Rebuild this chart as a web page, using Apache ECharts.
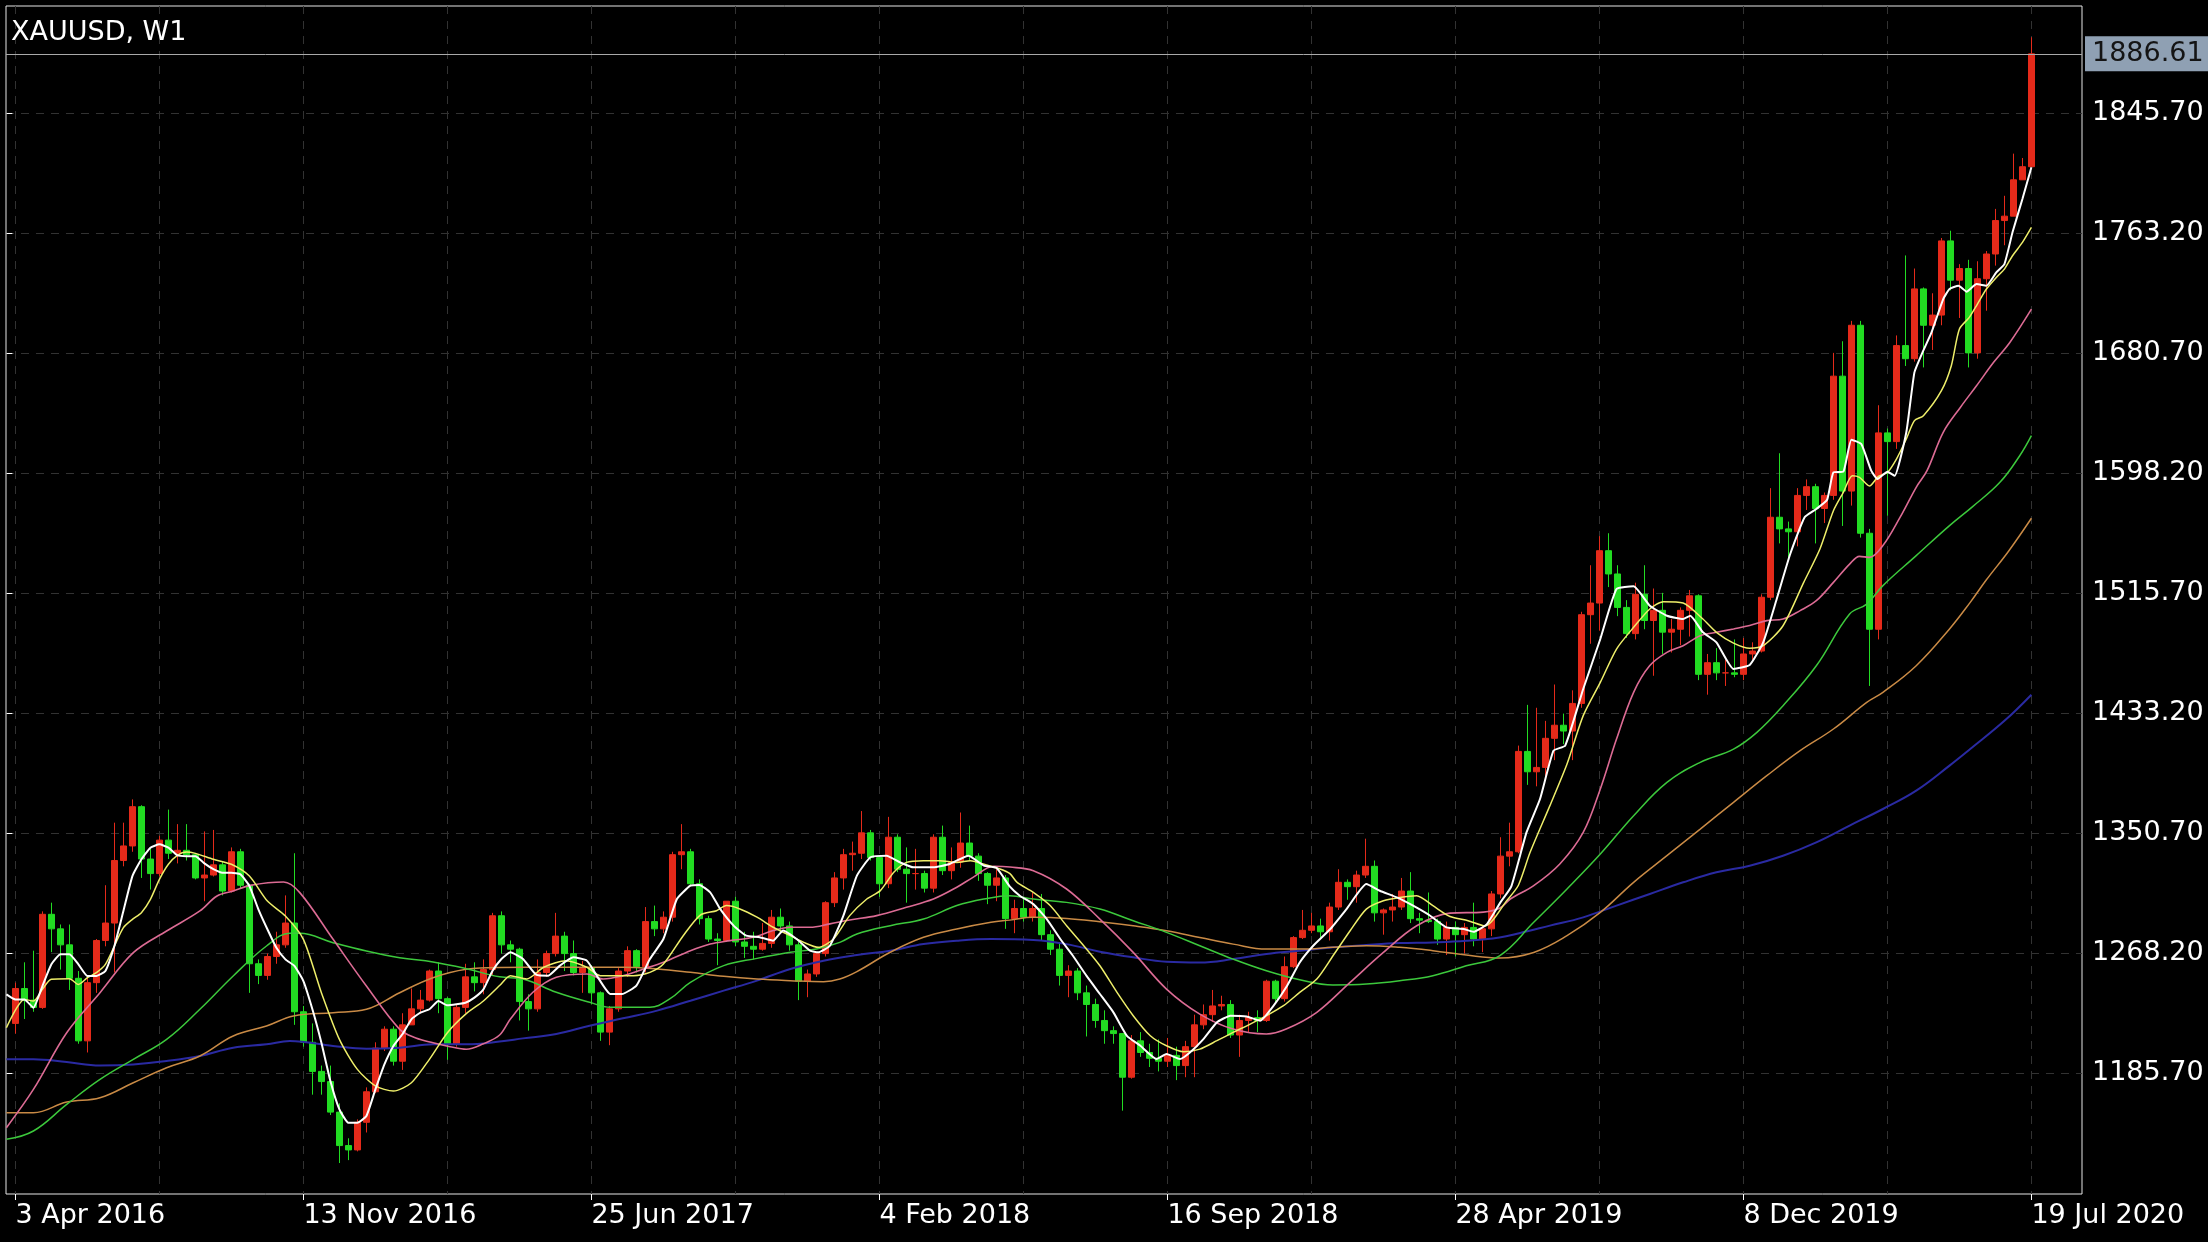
<!DOCTYPE html>
<html>
<head>
<meta charset="utf-8">
<script src="https://cdn.jsdelivr.net/npm/echarts@6.0.0/dist/echarts.min.js"></script>
<style>
html,body{margin:0;padding:0;background:#000;}
#chart{width:2208px;height:1242px;}
</style>
</head>
<body>
<div id="chart"></div>
<script>
// ---- data (week index 1 = 3 Apr 2016, one step per week) ----
const firstWeek = 1;
const opens = [1220,1244,1236,1231,1295,1285,1274,1251,1208,1248,
1277,1289,1332,1342,1369,1333,1323,1346,1337,1339,
1336,1320,1322,1329,1311,1338,1315,1261,1253,1266,
1274,1289,1228,1207,1187,1180,1159,1136,1133,1152,
1173,1203,1216,1194,1219,1230,1236,1256,1237,1206,
1231,1252,1248,1257,1294,1274,1271,1235,1230,1255,
1268,1280,1268,1255,1258,1241,1214,1230,1256,1270,
1259,1290,1285,1293,1336,1338,1316,1292,1278,1277,
1304,1276,1273,1271,1275,1293,1287,1274,1249,1254,
1268,1303,1320,1336,1337,1351,1334,1316,1348,1326,
1323,1323,1313,1348,1325,1331,1344,1335,1323,1315,
1320,1292,1299,1293,1299,1281,1271,1253,1256,1241,
1233,1222,1215,1213,1183,1208,1200,1196,1194,1198,
1191,1204,1219,1226,1232,1233,1212,1222,1224,1222,
1249,1237,1259,1279,1284,1287,1283,1300,1317,1314,
1322,1328,1296,1298,1300,1311,1292,1291,1290,1278,
1286,1281,1286,1278,1285,1309,1335,1338,1407,1393,
1396,1416,1425,1421,1440,1501,1509,1545,1529,1506,
1488,1515,1497,1504,1489,1491,1504,1514,1460,1468,
1461,1461,1460,1474,1476,1513,1568,1560,1558,1583,
1589,1574,1583,1665,1586,1700,1557,1491,1626,1620,
1686,1677,1725,1700,1707,1758,1731,1739,1681,1732,
1749,1772,1775,1800,1809];
const closes = [1244,1236,1231,1295,1285,1274,1251,1208,1248,1277,
1289,1332,1342,1369,1333,1323,1346,1337,1339,1336,
1320,1322,1329,1311,1338,1315,1261,1253,1266,1274,
1289,1228,1207,1187,1180,1159,1136,1133,1152,1173,
1203,1216,1194,1219,1230,1236,1256,1237,1206,1231,
1252,1248,1257,1294,1274,1271,1235,1230,1255,1268,
1280,1268,1255,1258,1241,1214,1230,1256,1270,1259,
1290,1285,1293,1336,1338,1316,1292,1278,1277,1304,
1276,1273,1271,1275,1293,1287,1274,1249,1254,1268,
1303,1320,1336,1337,1351,1334,1316,1348,1326,1323,
1323,1313,1348,1325,1331,1344,1335,1323,1315,1320,
1292,1299,1293,1299,1281,1271,1253,1256,1241,1233,
1222,1215,1213,1183,1208,1200,1196,1194,1198,1191,
1204,1219,1226,1232,1233,1212,1222,1224,1222,1249,
1237,1259,1279,1284,1287,1283,1300,1317,1314,1322,
1328,1296,1298,1300,1311,1292,1291,1290,1278,1286,
1281,1286,1278,1285,1309,1335,1338,1407,1393,1396,
1416,1425,1421,1440,1501,1509,1545,1529,1506,1488,
1515,1497,1504,1489,1491,1504,1514,1460,1468,1461,
1461,1460,1474,1476,1513,1568,1560,1558,1583,1589,
1574,1583,1665,1586,1700,1557,1491,1626,1620,1686,
1677,1725,1700,1707,1758,1731,1739,1681,1732,1749,
1772,1775,1800,1809,1886.61];
const highs = [1248,1262,1270,1297,1303,1288,1288,1256,1252,1278,
1315,1358,1358,1374,1370,1340,1349,1367,1357,1357,
1337,1352,1353,1331,1341,1340,1316,1264,1268,1283,
1308,1337,1232,1220,1191,1191,1165,1141,1154,1176,
1207,1218,1218,1227,1244,1243,1257,1262,1238,1233,
1261,1262,1264,1296,1297,1277,1272,1240,1264,1270,
1296,1283,1277,1263,1260,1242,1232,1258,1273,1271,
1300,1301,1297,1338,1357,1340,1319,1294,1282,1304,
1307,1283,1283,1289,1298,1299,1290,1276,1257,1268,
1304,1324,1340,1345,1366,1353,1335,1362,1350,1341,
1340,1325,1350,1356,1341,1365,1356,1337,1324,1326,
1322,1305,1307,1310,1309,1284,1275,1260,1258,1246,
1237,1229,1218,1213,1212,1214,1206,1209,1210,1204,
1208,1226,1233,1243,1239,1236,1226,1228,1229,1250,
1250,1266,1280,1298,1296,1292,1303,1326,1319,1325,
1347,1332,1299,1309,1320,1324,1296,1310,1292,1290,
1290,1289,1303,1287,1311,1348,1358,1411,1439,1437,
1428,1453,1433,1449,1503,1535,1555,1557,1535,1511,
1523,1535,1519,1516,1498,1506,1518,1515,1474,1478,
1470,1484,1485,1482,1515,1588,1612,1565,1588,1594,
1591,1585,1681,1689,1703,1703,1560,1645,1629,1693,
1748,1739,1726,1722,1760,1765,1742,1745,1744,1751,
1780,1789,1818,1815,1898];
const lows = [1213,1223,1228,1230,1269,1257,1243,1206,1200,1241,
1273,1255,1328,1338,1320,1312,1321,1333,1330,1332,
1319,1304,1321,1308,1310,1313,1241,1247,1250,1261,
1272,1219,1204,1171,1171,1157,1124,1126,1132,1145,
1172,1201,1191,1188,1219,1227,1235,1227,1195,1204,
1227,1242,1240,1253,1268,1262,1222,1215,1228,1252,
1266,1256,1253,1241,1233,1208,1205,1228,1252,1255,
1255,1280,1282,1290,1326,1315,1288,1276,1260,1276,
1273,1265,1264,1270,1272,1282,1270,1236,1238,1252,
1266,1300,1312,1325,1333,1332,1307,1313,1324,1303,
1312,1310,1310,1322,1319,1327,1332,1318,1302,1304,
1285,1282,1290,1290,1277,1267,1246,1238,1236,1211,
1217,1206,1206,1160,1182,1197,1190,1187,1190,1181,
1183,1183,1216,1221,1229,1210,1197,1214,1214,1221,
1234,1235,1258,1278,1282,1279,1277,1298,1305,1303,
1320,1290,1281,1290,1298,1289,1282,1289,1274,1267,
1266,1268,1273,1269,1280,1306,1328,1337,1384,1383,
1387,1401,1412,1401,1437,1481,1490,1520,1500,1485,
1484,1491,1459,1474,1475,1480,1486,1456,1446,1456,
1452,1458,1456,1470,1475,1511,1550,1538,1548,1573,
1550,1564,1580,1562,1576,1554,1452,1484,1569,1615,
1672,1675,1671,1683,1700,1724,1705,1671,1677,1710,
1741,1755,1775,1800,1809];

// moving averages: [week index, price]
const maWhite = [[0,1240],[1,1236.5],[2,1236.5],[3,1230.8],[4,1245.7],[5,1260.6],[6,1267.5],[7,1267.5],[8,1260.6],[9,1252.6],[10,1252.6],[11,1256],[12,1273.2],[13,1297.3],[14,1321.3],[15,1332.8],[16,1340.8],[17,1343.1],[18,1340.8],[19,1335.5],[20,1335],[21,1335],[22,1330],[23,1326],[24,1323.6],[25,1323.6],[26,1322.5],[27,1314.5],[28,1298.4],[29,1284.7],[30,1272],[31,1264],[32,1259.5],[33,1249.1],[34,1229.7],[35,1206.7],[36,1180.4],[37,1160.9],[38,1151.7],[39,1151.7],[40,1156.3],[41,1174.6],[42,1191.8],[43,1204.5],[44,1212.5],[45,1222.8],[46,1227.4],[47,1229.7],[48,1235.4],[49,1232.4],[50,1233.1],[51,1234.2],[52,1237.7],[53,1243.4],[54,1256],[55,1264.3],[56,1268.9],[57.4,1264.3],[58.9,1253.3],[60.2,1252.8],[61.5,1259.7],[63,1265.4],[64.5,1263.1],[65.6,1252.8],[67.1,1240.2],[68.4,1240.2],[70,1246],[71.5,1264.3],[73,1278],[74.5,1305.5],[76,1314.7],[77,1315.2],[78.2,1310.1],[79.3,1298.7],[80.8,1287.2],[82.2,1280.3],[83.7,1279.2],[85.2,1276.9],[86.3,1283.8],[87.8,1278],[89.3,1270],[90.2,1268.9],[91.5,1273.4],[93,1294.1],[94.5,1321.6],[96,1334.2],[97.8,1335.3],[99.3,1330.7],[100.8,1327.3],[103,1327.3],[104.8,1329.6],[106.9,1335.3],[108.6,1328.5],[110,1327],[111.5,1314],[112.6,1307.8],[114.1,1302],[115.6,1291.7],[117.1,1278],[118.5,1266.5],[120,1252.8],[121.5,1240.2],[123,1227.6],[124.5,1211.5],[126,1204.6],[127.8,1195.5],[128.9,1198.9],[130.4,1195.5],[131.5,1200],[133,1209.2],[134.5,1220.7],[136,1225.3],[137.8,1224.8],[139.3,1221.8],[140.8,1232.2],[142.3,1245.9],[143.7,1261.9],[145.2,1273.4],[147.1,1284.9],[148.9,1298.6],[151.1,1315.8],[152.6,1311.2],[154.5,1306.6],[156.3,1300.9],[158.2,1294],[160,1286],[161.9,1284.9],[163,1283],[164.5,1288.3],[166,1303.2],[167.2,1314],[168.9,1351.3],[170.4,1374.3],[171.9,1407.5],[173.2,1411],[175.2,1449.9],[177.1,1484.3],[178.9,1518.7],[180.8,1520.5],[182.6,1507.2],[184.5,1500.3],[186.3,1498],[187.1,1500.3],[188.5,1488.9],[190,1482],[191.9,1463.7],[193.7,1466.4],[195.2,1482],[196.7,1511.8],[198.2,1542.7],[199.8,1568],[201.1,1573.7],[202.3,1580],[203,1598.8],[204.1,1599.3],[205,1621.3],[206.1,1618.3],[207.2,1600],[207.9,1594.3],[209,1599.3],[209.8,1596.5],[211.1,1626.4],[212,1667.6],[212.9,1681.4],[213.9,1695.1],[215.2,1718],[215.9,1724.9],[216.9,1727.2],[217.8,1723.1],[218.9,1728.3],[220,1727.2],[221.1,1736.4],[222,1742.1],[222.9,1763.9],[224,1786.8],[225,1808.6]];
const maYellow = [[0,1217],[2,1236.5],[3,1235.4],[4,1243.4],[5,1250.3],[7,1250.7],[8,1246.8],[9,1251.4],[10,1254.9],[11,1260.6],[12,1273.2],[13,1285.8],[14,1291.5],[15,1296.1],[16,1305.3],[17,1319],[18,1329.4],[19,1335.5],[20,1337.8],[21,1336.9],[23,1332.8],[25,1329.4],[27,1321.3],[29,1304.1],[31,1293.8],[33,1277.8],[35,1241.1],[37,1209],[39,1188.4],[41,1177],[43,1173.5],[45,1179.2],[47,1195.3],[49,1213.6],[51,1226.2],[53,1235.4],[54.8,1246],[56,1252.8],[57.8,1250.5],[59.7,1258.6],[62.2,1263.1],[64.5,1258.6],[66,1252.8],[69.7,1252.8],[71.5,1255.1],[73,1260.8],[75.2,1280.3],[77.1,1294.5],[78.9,1297.5],[80,1301],[81.5,1298.7],[83.4,1293],[85.2,1286.1],[87.1,1280.3],[88.6,1275.7],[90.2,1272.3],[91.9,1278],[93.7,1294.1],[95.6,1305.5],[97.1,1311.3],[98.6,1323.9],[100,1330.7],[101.9,1331.9],[103.7,1331.9],[105.6,1330.7],[107.1,1331.9],[108.9,1328.9],[110.4,1326.2],[111.5,1323],[112.3,1316.9],[114.1,1310.1],[116,1300.9],[117.8,1287.1],[119.7,1273.4],[121.5,1259.6],[123.4,1241.3],[125.2,1225.3],[127.1,1211.5],[128.9,1204.6],[130.8,1200.5],[132.6,1202.3],[134.5,1208.1],[136.3,1213.8],[138.2,1219.5],[140,1225.3],[141.9,1232.2],[143.7,1241.3],[145.6,1250.5],[147.4,1266.5],[149.3,1283.7],[151.1,1298.6],[153,1304.3],[154.8,1306.6],[156.7,1307.8],[158.5,1300.9],[160.4,1293.5],[162.4,1290.6],[164.3,1287],[166.7,1304.4],[168,1315],[169.3,1337.6],[171.5,1369.7],[173.4,1398.3],[175.2,1431.6],[177.1,1454.5],[178.9,1477.4],[180.8,1492.3],[182.6,1504.9],[184.1,1509.9],[186.3,1509],[188.5,1498],[190,1488.9],[191.9,1481.5],[193.7,1477.9],[195.2,1479.7],[197.4,1493.4],[199.7,1523.2],[201.5,1546.2],[203,1572.5],[204.1,1585.1],[205.1,1596.5],[205.9,1595.4],[207,1589.5],[208,1596.1],[209,1598.8],[210,1608],[211.1,1621.8],[212,1634.4],[213,1637.8],[215,1655],[216.1,1672.2],[217,1697.4],[218.1,1705.4],[219,1714.6],[220,1724.9],[221.1,1732.9],[222,1738.6],[222.9,1747.8],[224,1757],[225,1767.3]];
const maPink = [[0,1148.3],[3,1174.6],[6.7,1213.6],[10.4,1241.1],[14.1,1268.6],[17.8,1283.5],[21.5,1297.3],[23.4,1307.6],[25.2,1311],[27.1,1314.9],[30.8,1317.2],[32.6,1309.9],[36.3,1277.8],[40,1245.7],[43.7,1215.9],[45.5,1210],[47.4,1206.7],[49.3,1204],[51.1,1202.2],[53,1206],[54.8,1212],[56,1223],[58.5,1241.4],[61.1,1251.7],[64.5,1254],[66.3,1250.5],[68.5,1252.8],[70.8,1257.4],[73,1262],[76,1270],[78.2,1274.6],[80.4,1276.9],[83,1279.2],[85.2,1283.8],[87.1,1286.1],[89.3,1286.1],[91.5,1288.4],[93.7,1291.1],[96.7,1294.1],[100,1299.8],[103,1305.5],[105.6,1313.6],[107.4,1320.4],[109.7,1328],[111.5,1327.5],[114.1,1325],[117.8,1312.4],[121.5,1291.7],[125.2,1268.8],[128.9,1243.6],[132.6,1226.4],[136.3,1216.1],[140,1212.7],[142.2,1216.1],[145.6,1227.6],[149.3,1248.2],[153,1268.8],[156.7,1287.1],[160.4,1295.8],[164.1,1296.5],[165.9,1299.1],[167.1,1305.5],[169.7,1314.7],[172.6,1329.6],[175.2,1351.3],[177.1,1381.2],[178.9,1415.5],[180.8,1447.6],[182.6,1466],[184.5,1475.1],[186.3,1479.7],[188.2,1486.6],[190,1488.9],[191.9,1491.2],[193.7,1493.5],[195.6,1496.9],[197.4,1498],[199.3,1503.8],[201.1,1510.6],[203,1523.2],[204.8,1535.8],[205.9,1541.1],[207,1540.4],[208.5,1548.5],[210.4,1567.9],[212.2,1588.6],[213.4,1600],[215.2,1626.4],[217.1,1643.5],[218.9,1658.4],[220.8,1674.5],[222.6,1688.2],[225,1711.1]];
const maGreen = [[0,1140.3],[3,1146],[6.7,1164.3],[10.4,1181.5],[14.1,1195.3],[17.8,1209],[21.5,1229.7],[25.2,1252.6],[28.9,1273.2],[31.5,1281.9],[32.6,1281.9],[36.3,1275.5],[40,1269.8],[43.7,1265.2],[47.4,1262.2],[51.1,1257.6],[54.8,1252],[57.4,1250.5],[61.1,1241.4],[64.8,1234.5],[67.1,1231.1],[71.5,1231.1],[73.7,1236.8],[76,1248.2],[79.7,1259.7],[83.4,1264.7],[87.1,1268.9],[90,1271.2],[92.6,1275.7],[94.5,1281.5],[98.2,1287.2],[101.9,1291.8],[105.6,1301],[108.6,1305.5],[111.5,1307.8],[114.1,1305.5],[117.8,1303.2],[121.5,1298.6],[125.2,1290.6],[128.9,1282.6],[132.6,1273.4],[136.3,1264.2],[140,1256.2],[143.7,1250],[147.4,1246.4],[151.1,1247],[154.8,1249.3],[158.5,1252.8],[162.2,1259.6],[165.9,1266.5],[169.7,1289.5],[173.4,1312.4],[177.1,1336.4],[180.8,1362.8],[184.5,1385.7],[188.2,1399.5],[191.9,1408.6],[194.5,1420.1],[197.4,1438.4],[201.1,1465.9],[204.8,1501.5],[206.7,1508.3],[208.5,1521],[212.2,1541.6],[215.9,1562.2],[218.5,1575.5],[221.5,1592],[223.7,1610.3],[225,1624.1]];
const maOrange = [[0,1158.6],[3,1158.6],[6.7,1165.9],[10.4,1168.9],[14.1,1179.2],[17.8,1189.5],[21.5,1197.6],[25.2,1211.3],[28.9,1218.2],[31.9,1225.1],[36.3,1227.4],[40,1229.7],[43.7,1241.1],[47.4,1251.4],[51.1,1257.2],[54.8,1258.5],[61.1,1258.6],[68.5,1258.6],[72.3,1257.4],[76,1255.1],[79.7,1252.4],[83.4,1250.5],[87.1,1249.4],[90.8,1248.7],[92.6,1250.5],[94.5,1255.6],[98.2,1268.9],[101.9,1279.2],[105.6,1284.9],[109.4,1289.5],[111.5,1291],[114.1,1292.9],[117.8,1292.2],[121.5,1289.9],[125.2,1287.1],[128.9,1283.7],[132.6,1279.1],[136.3,1274.5],[140,1271.1],[143.7,1271.1],[147.4,1272.3],[151.1,1273.4],[154.8,1272.3],[158.5,1270],[162.2,1267],[165.9,1265],[169.7,1268.8],[173.4,1280.3],[177.1,1296.3],[180.8,1317],[184.5,1335.3],[188.2,1353.6],[191.9,1372],[195.6,1390.3],[199.3,1407.5],[203,1422.4],[206.7,1440.7],[208.5,1447.6],[212.2,1465.9],[215.9,1491.2],[218.2,1509.5],[220,1525],[222.5,1545],[225,1567.3]];
const maBlue = [[0,1195.3],[3,1195.3],[6.7,1193.4],[10.4,1191.1],[14.1,1191.8],[17.8,1194.1],[21.5,1197.6],[25.2,1203.3],[28.9,1205.6],[31.5,1207.9],[36.3,1204.5],[40,1202.6],[43.7,1203.3],[47.4,1205.6],[51.1,1205.6],[54.8,1207.5],[57.4,1209.7],[61.1,1212.7],[64.8,1218.4],[68.5,1223.5],[72.3,1228.8],[76,1235.6],[79.7,1242.5],[83.4,1249.4],[87.1,1257.4],[90.8,1263.1],[94.5,1267],[98.2,1270],[101.9,1274.6],[105.6,1276.9],[109.4,1278],[114.1,1277.3],[117.8,1274.5],[121.5,1269.3],[125.2,1265.4],[128.9,1262.4],[132.6,1261.9],[136.3,1264.2],[140,1267.7],[143.7,1270],[147.4,1272.3],[151.1,1273.9],[154.8,1275.2],[158.5,1275.7],[162.2,1276.8],[165.9,1279.1],[168.1,1282],[171.5,1287.2],[175.2,1292.9],[178.9,1301],[182.6,1309],[186.3,1317],[190,1323.9],[193.7,1328.4],[197.4,1335.3],[201.1,1344.5],[204.8,1356],[208.5,1367.4],[212.2,1380],[215.9,1397.2],[218.2,1408.6],[222,1428],[225,1446]];

// axis ticks
const xTickWeeks = [1,33,65,97,129,161,193,225];
const xTickLabels = ['3 Apr 2016','13 Nov 2016','25 Jun 2017','4 Feb 2018','16 Sep 2018','28 Apr 2019','8 Dec 2019','19 Jul 2020'];
const xGridWeeks = [1,17,33,49,65,81,97,113,129,145,161,177,193,209,225];
const yTicks = [1185.70,1268.20,1350.70,1433.20,1515.70,1598.20,1680.70,1763.20,1845.70];
const lastPrice = 1886.61;
const xRange = [-0.044, 230.62];
const yRange = [1102.7, 1919.5];

// ---- build ----
const candles = opens.map((o, k) => [firstWeek + k, o, closes[k], lows[k], highs[k]]);
const FONT = 'DejaVu Sans';
const gridDash = { color: '#323232', width: 1, type: [8, 7] };

const chart = echarts.init(document.getElementById('chart'), null, { renderer: 'canvas' });
function maSeries(name, data, color, width, smooth) {
  return {
    name, type: 'line', data, showSymbol: false, smooth,
    xAxisIndex: 0, yAxisIndex: 0,
    lineStyle: { color, width }, silent: true, animation: false
  };
}
chart.setOption({
  backgroundColor: '#000000',
  animation: false,
  title: {
    text: 'XAUUSD, W1', left: 11, top: 19, padding: 0,
    textStyle: { color: '#ffffff', fontSize: 27, fontWeight: 'normal', fontFamily: FONT }
  },
  grid: {
    left: 6, top: 6, right: 126, bottom: 48, show: true,
    borderColor: '#e6e6e6', borderWidth: 1, backgroundColor: 'transparent'
  },
  xAxis: [
    {
      type: 'value', min: xRange[0], max: xRange[1], position: 'bottom',
      axisLine: { show: false },
      axisTick: { show: false, customValues: xGridWeeks },
      axisLabel: { show: false },
      splitLine: { show: true, lineStyle: gridDash }
    },
    {
      type: 'value', min: xRange[0], max: xRange[1], position: 'bottom',
      axisLine: { show: false },
      axisTick: { show: true, customValues: xTickWeeks, length: 6, lineStyle: { color: '#ffffff' } },
      axisLabel: {
        show: true, customValues: xTickWeeks, align: 'left', margin: 8,
        color: '#ffffff', fontSize: 27, fontFamily: FONT,
        formatter: v => xTickLabels[xTickWeeks.indexOf(Math.round(v))] || ''
      },
      splitLine: { show: false }
    }
  ],
  yAxis: {
    type: 'value', position: 'right', min: yRange[0], max: yRange[1], scale: true,
    axisLine: { show: false },
    axisTick: { show: true, customValues: yTicks, length: 6, lineStyle: { color: '#ffffff' } },
    axisLabel: {
      show: true, customValues: yTicks, margin: 10, padding: [8, 0, 0, 0],
      color: '#ffffff', fontSize: 27, fontFamily: FONT,
      formatter: v => v.toFixed(2)
    },
    splitLine: { show: true, lineStyle: gridDash }
  },
  series: [
    {
      type: 'candlestick', data: candles, barWidth: 7,
      xAxisIndex: 0, yAxisIndex: 0,
      itemStyle: {
        color: '#e52a1a', color0: '#22dc22',
        borderColor: '#e52a1a', borderColor0: '#22dc22', borderWidth: 1
      },
      silent: true, animation: false,
      markLine: {
        silent: true, animation: false, symbol: ['none', 'none'],
        lineStyle: { color: '#a9a9a9', width: 1, type: 'solid' },
        label: {
          show: true, position: 'end', distance: 3,
          formatter: () => lastPrice.toFixed(2),
          backgroundColor: '#8fa0b3', color: '#141414',
          fontSize: 27, fontFamily: FONT, padding: [5, 7, 3, 7]
        },
        data: [{ yAxis: lastPrice }]
      }
    },
    maSeries('MA blue', maBlue, '#2a2aa2', 2, 0.4),
    maSeries('MA orange', maOrange, '#c98a45', 1.5, 0.4),
    maSeries('MA green', maGreen, '#3cc83c', 1.5, 0.4),
    maSeries('MA pink', maPink, '#dc6b94', 1.6, 0.35),
    maSeries('MA yellow', maYellow, '#eeee6a', 1.5, 0.25),
    maSeries('MA white', maWhite, '#ffffff', 2, 0.15)
  ]
});
</script>
</body>
</html>
